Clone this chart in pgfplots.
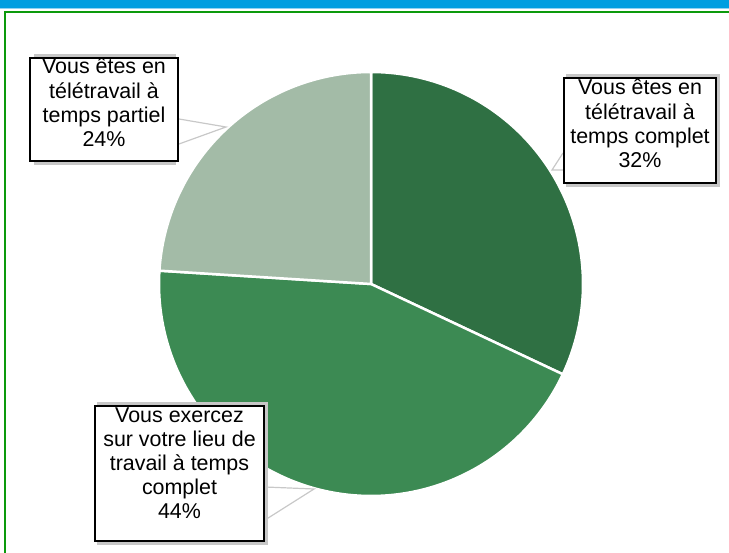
\documentclass[border=0pt]{standalone}
\usepackage{pgfplots}
\pgfplotsset{compat=1.18}
\usepackage{pgfplotstable}
\usepackage{fontspec}
\setmainfont{Liberation Sans}
\definecolor{cA}{HTML}{2F7043}
\definecolor{cB}{HTML}{3C8A53}
\definecolor{cC}{HTML}{A3BBA7}
\definecolor{topblue}{HTML}{009EE0}
\definecolor{lightblue}{HTML}{8FD3F2}
\definecolor{framegreen}{HTML}{0C9A0C}
\definecolor{leader}{HTML}{C8C8C8}

\pgfplotstableread{
part value
complet 32
lieu 44
partiel 24
}\piedata

\newcommand{\fs}{\fontsize{21.5}{24.5}\selectfont}

\begin{document}
\begin{tikzpicture}
\useasboundingbox (0,0) rectangle (729bp,553bp);
\pgfplotstablegetelem{0}{value}\of\piedata \pgfmathsetmacro{\va}{\pgfplotsretval}
\pgfplotstablegetelem{1}{value}\of\piedata \pgfmathsetmacro{\vb}{\pgfplotsretval}
\pgfplotstablegetelem{2}{value}\of\piedata \pgfmathsetmacro{\vc}{\pgfplotsretval}
\pgfmathsetmacro{\angA}{90}
\pgfmathsetmacro{\angB}{90-3.6*\va}
\pgfmathsetmacro{\angC}{\angB-3.6*\vb}
\pgfmathsetmacro{\angD}{\angC-3.6*\vc}
% page decoration
\fill[topblue] (0,545bp) rectangle (729bp,553bp);
\fill[lightblue] (0,544bp) rectangle (729bp,545.2bp);
\draw[framegreen, line width=2bp] (5.2bp,-50bp) -- (5.2bp,541.3bp) -- (800bp,541.3bp);
\begin{axis}[at={(0,0)}, anchor=south west, scale only axis,
  width=729bp, height=553bp, xmin=0, xmax=729, ymin=0, ymax=553,
  hide axis, clip=false]
\addplot[draw=white, line width=2.5bp, fill=cA, domain=\angB:\angA, samples=150, variable=\t]
  ({371+212*cos(\t)},{269+212*sin(\t)}) -- (axis cs:371,269) -- cycle;
\addplot[draw=white, line width=2.5bp, fill=cB, domain=\angC:\angB, samples=150, variable=\t]
  ({371+212*cos(\t)},{269+212*sin(\t)}) -- (axis cs:371,269) -- cycle;
\addplot[draw=white, line width=2.5bp, fill=cC, domain=\angD:\angC, samples=150, variable=\t]
  ({371+212*cos(\t)},{269+212*sin(\t)}) -- (axis cs:371,269) -- cycle;
% leader lines
\draw[leader, line width=1.2bp] (axis cs:179,434) -- (axis cs:226,426) -- (axis cs:179,409);
\draw[leader, line width=1.2bp] (axis cs:563,400) -- (axis cs:552,383) -- (axis cs:563,383);
\draw[leader, line width=1.2bp] (axis cs:265,66) -- (axis cs:314,64) -- (axis cs:265,33);
% shadows
\fill[black!22] (axis cs:34,388) rectangle (axis cs:176,499);
\fill[black!22] (axis cs:566,366) rectangle (axis cs:720,479);
\fill[black!22] (axis cs:97,8) rectangle (axis cs:268,151);
% boxes
\draw[black, line width=2.2bp, fill=white] (axis cs:30,392) rectangle (axis cs:178,495);
\draw[black, line width=2.2bp, fill=white] (axis cs:564,370) rectangle (axis cs:716,475);
\draw[black, line width=2.2bp, fill=white] (axis cs:95,12) rectangle (axis cs:264,147);
% texts
\node[anchor=base, font=\fs, inner sep=0] at (axis cs:104,479) {Vous êtes en};
\node[anchor=base, font=\fs, inner sep=0] at (axis cs:104,454.7) {télétravail à};
\node[anchor=base, font=\fs, inner sep=0] at (axis cs:104,430.4) {temps partiel};
\node[anchor=base, font=\fs, inner sep=0] at (axis cs:104,406.1) {24\%};
\node[anchor=base, font=\fs, inner sep=0] at (axis cs:640,458) {Vous êtes en};
\node[anchor=base, font=\fs, inner sep=0] at (axis cs:640,433.7) {télétravail à};
\node[anchor=base, font=\fs, inner sep=0] at (axis cs:640,409.4) {temps complet};
\node[anchor=base, font=\fs, inner sep=0] at (axis cs:640,385.1) {32\%};
\node[anchor=base, font=\fs, inner sep=0] at (axis cs:179.5,130) {Vous exercez};
\node[anchor=base, font=\fs, inner sep=0] at (axis cs:179.5,106) {sur votre lieu de};
\node[anchor=base, font=\fs, inner sep=0] at (axis cs:179.5,82) {travail à temps};
\node[anchor=base, font=\fs, inner sep=0] at (axis cs:179.5,58) {complet};
\node[anchor=base, font=\fs, inner sep=0] at (axis cs:179.5,34) {44\%};
\end{axis}
\end{tikzpicture}
\end{document}
